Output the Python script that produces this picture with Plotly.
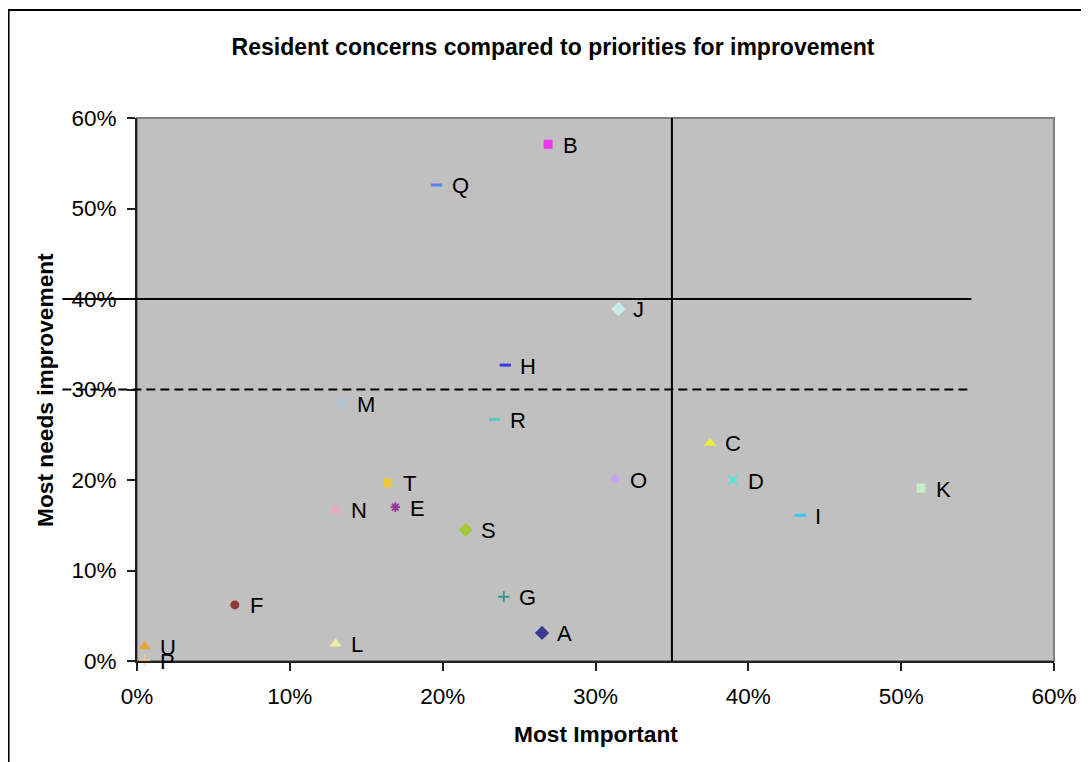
import plotly.graph_objects as go

# ---- data ----
labels = ["A", "B", "C", "D", "E", "F", "G", "H", "I", "J", "K",
          "L", "M", "N", "O", "P", "Q", "R", "S", "T", "U"]
most_important = [0.265, 0.269, 0.375, 0.390, 0.169, 0.064, 0.240, 0.241, 0.434, 0.315, 0.513,
                  0.130, 0.134, 0.130, 0.313, 0.005, 0.196, 0.234, 0.215, 0.164, 0.005]
needs_improvement = [0.031, 0.571, 0.241, 0.200, 0.170, 0.062, 0.071, 0.327, 0.161, 0.389, 0.191,
                     0.019, 0.285, 0.167, 0.201, 0.001, 0.526, 0.267, 0.145, 0.197, 0.016]
tick_vals = [0, 0.1, 0.2, 0.3, 0.4, 0.5, 0.6]
tick_text = ["0%", "10%", "20%", "30%", "40%", "50%", "60%"]
vline_x = 0.35          # vertical reference (Most Important)
hline_solid_y = 0.40    # solid horizontal reference
hline_dash_y = 0.30     # dashed horizontal reference

# ---- styles (Excel default series markers) ----
colors = ["#000080", "#FF00FF", "#FFFF00", "#00FFFF", "#800080", "#800000", "#008080",
          "#0000FF", "#00CCFF", "#CCFFFF", "#CCFFCC", "#FFFF99", "#99CCFF", "#FF99CC",
          "#CC99FF", "#FFCC99", "#3366FF", "#33CCCC", "#99CC00", "#FFCC00", "#FF9900"]
cycle = ["diamond", "square", "triangle-up", "x-thin-open", "asterisk-open", "circle",
         "cross-thin-open", "line-ew-open", "line-ew-open"]
symbols = [cycle[i % len(cycle)] for i in range(len(labels))]
sizes = []
lwidths = []
for s in symbols:
    if s == "line-ew-open":
        sizes.append(8); lwidths.append(3)
    elif s.endswith("-open"):
        sizes.append(8); lwidths.append(1.8)
    elif s in ("triangle-up", "diamond"):
        sizes.append(11); lwidths.append(0)
    else:
        sizes.append(9); lwidths.append(0)

FONT = "Liberation Sans, Arial, sans-serif"
OFF = 8  # page body margin
W, H = 1089 - OFF, 762 - OFF
# plot area in screen pixels
L_PX, R_PX, T_PX, B_PX = 137, 1058, 118, 661
pw, ph = R_PX - L_PX, B_PX - T_PX
XMAX, YMAX = 0.6, 0.6


def px2paper_x(px):
    return (px - L_PX) / pw


def px2paper_y(py):
    return (B_PX - py) / ph


fig = go.Figure()
fig.add_trace(go.Scatter(
    x=most_important, y=needs_improvement, mode="markers",
    marker=dict(symbol=symbols, size=sizes, color=colors,
                line=dict(color=colors, width=lwidths)),
    cliponaxis=False, showlegend=False, hoverinfo="text", text=labels,
))

annotations = []
for lab, xv, yv in zip(labels, most_important, needs_improvement):
    annotations.append(dict(x=xv, y=yv, xref="x", yref="y", text=lab, showarrow=False,
                            xanchor="left", yanchor="middle", xshift=13, yshift=-1,
                            font=dict(family=FONT, size=22, color="#000000")))

annotations.append(dict(x=0.5, y=px2paper_y(734), xref="paper", yref="paper",
                        text="<b>Most Important</b>", showarrow=False,
                        xanchor="center", yanchor="middle",
                        font=dict(family=FONT, size=22.7, color="#000000")))
annotations.append(dict(x=px2paper_x(44), y=0.5, xref="paper", yref="paper",
                        text="<b>Most needs improvement</b>", showarrow=False, textangle=-90,
                        xanchor="center", yanchor="middle",
                        font=dict(family=FONT, size=22.7, color="#000000")))

shapes = [
    # outer chart border (cropped at right/bottom)
    dict(type="rect", xref="paper", yref="paper",
         x0=px2paper_x(8), x1=px2paper_x(1110), y0=px2paper_y(780), y1=px2paper_y(10),
         line=dict(color="#000000", width=2), fillcolor="rgba(0,0,0,0)", layer="below"),
    # plot area border (gray)
    dict(type="rect", xref="paper", yref="paper", x0=0, x1=1, y0=0, y1=1,
         line=dict(color="#808080", width=2), fillcolor="rgba(0,0,0,0)", layer="below"),
    # reference lines
    dict(type="line", xref="paper", yref="paper",
         x0=px2paper_x(62), x1=px2paper_x(975),
         y0=hline_solid_y / YMAX, y1=hline_solid_y / YMAX,
         line=dict(color="#000000", width=2), layer="above"),
    dict(type="line", xref="paper", yref="paper",
         x0=px2paper_x(62), x1=px2paper_x(975),
         y0=hline_dash_y / YMAX, y1=hline_dash_y / YMAX,
         line=dict(color="#000000", width=2, dash="9px,5px"), layer="above"),
    dict(type="line", xref="paper", yref="paper",
         x0=vline_x / XMAX, x1=vline_x / XMAX, y0=0, y1=1,
         line=dict(color="#000000", width=2), layer="above"),
]

axis_common = dict(range=[0, 0.6], tickvals=tick_vals, ticktext=tick_text,
                   showgrid=False, zeroline=False, showline=True,
                   linecolor="#222222", linewidth=2, ticks="outside", ticklen=8,
                   tickwidth=1.5, tickcolor="#222222",
                   tickfont=dict(family=FONT, size=22.5, color="#000000"))

fig.update_layout(
    width=W, height=H,
    margin=dict(l=L_PX - OFF, r=W - (R_PX - OFF), t=T_PX - OFF, b=H - (B_PX - OFF), pad=0),
    paper_bgcolor="#FFFFFF", plot_bgcolor="#C0C0C0",
    title=dict(text="<b>Resident concerns compared to priorities for improvement</b>",
               x=(553 - OFF) / W, xref="container", xanchor="center",
               y=1 - (47 - OFF) / H, yref="container", yanchor="middle",
               font=dict(family=FONT, size=23, color="#000000")),
    xaxis=dict(**axis_common, ticklabelstandoff=6),
    yaxis=dict(**axis_common, ticklabelstandoff=6),
    annotations=annotations, shapes=shapes,
)

fig.write_html("out.html")
